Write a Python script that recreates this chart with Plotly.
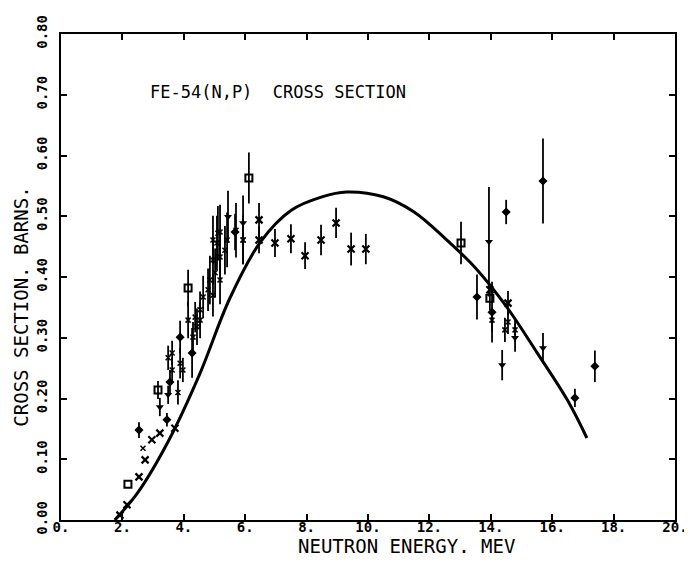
import plotly.graph_objects as go

# ---- evaluated curve ----
curve_e = [1.75, 2.5, 3.5, 4.5, 5.5, 6.5, 7.5, 8.5, 9.3, 10.5, 11.5, 12.5, 13.5, 14.5, 15.5,
           16.5, 17.13]
curve_xs = [0.0, 0.045, 0.130, 0.238, 0.365, 0.458, 0.510, 0.532, 0.540, 0.532, 0.507, 0.464,
            0.415, 0.352, 0.276, 0.197, 0.135]

# ---- measured data (crosses) ----
cross_e = [1.92, 2.15, 2.54, 2.74, 2.96, 3.22, 3.71, 6.45, 6.45, 6.97, 7.49, 7.95, 8.47, 8.96,
           9.45, 9.93, 13.97, 14.56]
cross_xs = [0.008, 0.025, 0.071, 0.099, 0.132, 0.143, 0.151, 0.461, 0.494, 0.456, 0.463, 0.435,
            0.461, 0.489, 0.446, 0.446, 0.379, 0.357]
cross_err = [0, 0, 0, 0, 0, 0, 0, 0.022, 0.028, 0.023, 0.024, 0.022, 0.025, 0.025, 0.027,
             0.025, 0, 0.02]

# ---- open squares ----
sq_e = [2.18, 3.16, 4.14, 6.12, 13.03, 13.97]
sq_xs = [0.059, 0.214, 0.382, 0.563, 0.456, 0.365]
sq_err = [0, 0.015, 0.03, 0.042, 0.035, 0.02]

# ---- filled diamonds ----
dia_e = [2.54, 3.45, 3.55, 3.88, 4.27, 5.67, 13.55, 14.04, 14.5, 15.70, 16.74, 17.39]
dia_xs = [0.148, 0.165, 0.227, 0.301, 0.275, 0.474, 0.367, 0.342, 0.507, 0.558, 0.201, 0.253]
dia_err = [0.013, 0.011, 0.02, 0.027, 0.041, 0.03, 0.037, 0.05, 0.02, 0.07, 0.015, 0.026]

# ---- triangles ----
tri_e = [3.22, 3.49, 14.37, 15.70, 14.79, 13.94, 5.44, 5.93]
tri_xs = [0.186, 0.206, 0.255, 0.283, 0.30, 0.458, 0.499, 0.489]
tri_err = [0.015, 0.015, 0.025, 0.025, 0.023, 0.09, 0.043, 0.045]

# ---- dense cluster of small points ----
cl_e = [2.67, 3.62, 3.49, 3.62, 3.88, 3.97, 4.14, 4.30, 4.43, 4.53, 4.53, 4.37, 4.63, 4.79,
        4.95, 4.85, 5.02, 5.18, 4.95, 5.18, 5.34, 5.08, 5.41, 5.11, 5.93, 5.18, 4.95, 5.70,
        5.93, 14.04, 14.56, 14.46, 14.79, 3.81]
cl_xs = [0.118, 0.247, 0.267, 0.275, 0.258, 0.247, 0.329, 0.301, 0.318, 0.329, 0.346, 0.334,
         0.367, 0.379, 0.37, 0.395, 0.407, 0.395, 0.428, 0.433, 0.444, 0.456, 0.461, 0.472,
         0.461, 0.474, 0.461, 0.477, 0.461, 0.329, 0.326, 0.313, 0.313, 0.21]
cl_err = [0.0, 0.02, 0.02, 0.02, 0.025, 0.02, 0.03, 0.025, 0.03, 0.03, 0.03, 0.025, 0.035,
          0.035, 0.035, 0.04, 0.04, 0.04, 0.04, 0.04, 0.04, 0.045, 0.045, 0.045, 0.04, 0.045,
          0.04, 0.045, 0.04, 0.02, 0.02, 0.02, 0.02, 0.02]

x_ticks = [0, 2, 4, 6, 8, 10, 12, 14, 16, 18, 20]
x_ticktext = ["0.", "2.", "4.", "6.", "8.", "10.", "12.", "14.", "16.", "18.", "20."]
y_ticks = [0.0, 0.1, 0.2, 0.3, 0.4, 0.5, 0.6, 0.7, 0.8]
y_ticktext = ["0.00", "0.10", "0.20", "0.30", "0.40", "0.50", "0.60", "0.70", "0.80"]

title_text = "FE-54(N,P)  CROSS SECTION"
x_title = "NEUTRON ENERGY. MEV"
y_title = "CROSS SECTION. BARNS."

BLACK = "#000000"
FONT = "DejaVu Sans Mono"

def err(vals):
    return dict(type="data", array=vals, visible=True, color=BLACK, thickness=1.8, width=0)

fig = go.Figure()
fig.add_trace(go.Scatter(x=curve_e, y=curve_xs, mode="lines",
                         line=dict(color=BLACK, width=3, shape="spline", smoothing=1.0)))
fig.add_trace(go.Scatter(x=cl_e, y=cl_xs, mode="markers", error_y=err(cl_err),
                         marker=dict(symbol="x-thin", size=5, line=dict(color=BLACK, width=1.5))))
fig.add_trace(go.Scatter(x=cross_e, y=cross_xs, mode="markers", error_y=err(cross_err),
                         marker=dict(symbol="x-thin", size=7, line=dict(color=BLACK, width=2.2))))
fig.add_trace(go.Scatter(x=sq_e, y=sq_xs, mode="markers", error_y=err(sq_err),
                         marker=dict(symbol="square-open", size=7, color=BLACK,
                                     line=dict(color=BLACK, width=2))))
fig.add_trace(go.Scatter(x=dia_e, y=dia_xs, mode="markers", error_y=err(dia_err),
                         marker=dict(symbol="diamond", size=7, color=BLACK)))
fig.add_trace(go.Scatter(x=tri_e, y=tri_xs, mode="markers", error_y=err(tri_err),
                         marker=dict(symbol="triangle-down", size=7, color=BLACK)))

fig.add_annotation(x=2.83, y=0.705, xref="x", yref="y", xanchor="left", yanchor="middle",
                   text=title_text, showarrow=False,
                   font=dict(family=FONT, size=17, color=BLACK))
# axis titles placed as annotations for exact positioning
fig.add_annotation(x=0.5635, y=-0.0535, xref="paper", yref="paper", xanchor="center",
                   yanchor="middle", text=x_title, showarrow=False,
                   font=dict(family=FONT, size=19, color=BLACK))
fig.add_annotation(x=-0.0855, y=0.438, xref="paper", yref="paper", xanchor="left",
                   yanchor="middle", text=y_title, showarrow=False, textangle=-90,
                   font=dict(family=FONT, size=19, color=BLACK))

# page has an 8px body margin, so the figure is sized 684x557 to fill the 692x565 window
fig.update_layout(
    width=684, height=557,
    margin=dict(l=53, r=17, t=26, b=45),
    paper_bgcolor="white", plot_bgcolor="white",
    showlegend=False,
    font=dict(family=FONT, color=BLACK),
)
fig.update_xaxes(range=[0, 20], tickmode="array", tickvals=x_ticks, ticktext=x_ticktext,
                 automargin=False, ticklabelstandoff=-7,
                 ticks="inside", ticklen=6, tickwidth=1.5, tickcolor=BLACK,
                 showline=True, linecolor=BLACK, linewidth=2, mirror="ticks",
                 showgrid=False, zeroline=False,
                 tickfont=dict(family=FONT, size=14, color=BLACK, weight="bold"))
fig.update_yaxes(range=[0, 0.8], tickmode="array", tickvals=y_ticks, ticktext=y_ticktext,
                 automargin=False, ticklabelstandoff=6,
                 ticks="inside", ticklen=6, tickwidth=1.5, tickcolor=BLACK, tickangle=-90,
                 showline=True, linecolor=BLACK, linewidth=2, mirror="ticks",
                 showgrid=False, zeroline=False,
                 tickfont=dict(family=FONT, size=14, color=BLACK, weight="bold"))

fig.write_html("out.html")
